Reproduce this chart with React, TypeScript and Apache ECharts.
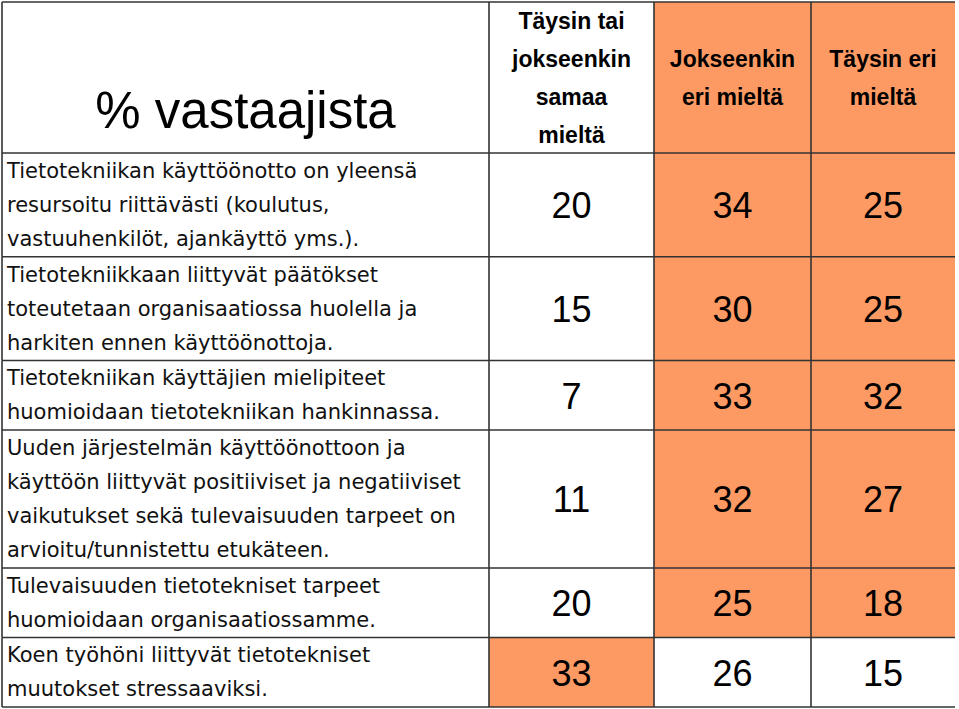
import React, { useEffect, useRef } from "react";
import * as echarts from "echarts";

const cornerTitle = "% vastaajista";
const columnHeaders = [
  "Täysin tai\njokseenkin\nsamaa\nmieltä",
  "Jokseenkin\neri mieltä",
  "Täysin eri\nmieltä",
];
const statements = [
  "Tietotekniikan käyttöönotto on yleensä\nresursoitu riittävästi (koulutus,\nvastuuhenkilöt, ajankäyttö yms.).",
  "Tietotekniikkaan liittyvät päätökset\ntoteutetaan organisaatiossa huolella ja\nharkiten ennen käyttöönottoja.",
  "Tietotekniikan käyttäjien mielipiteet\nhuomioidaan tietotekniikan hankinnassa.",
  "Uuden järjestelmän käyttöönottoon ja\nkäyttöön liittyvät positiiviset ja negatiiviset\nvaikutukset sekä tulevaisuuden tarpeet on\narvioitu/tunnistettu etukäteen.",
  "Tulevaisuuden tietotekniset tarpeet\nhuomioidaan organisaatiossamme.",
  "Koen työhöni liittyvät tietotekniset\nmuutokset stressaaviksi.",
];
const agreeValues = [20, 15, 7, 11, 20, 33];
const partlyDisagreeValues = [34, 30, 33, 32, 25, 26];
const fullyDisagreeValues = [25, 25, 32, 27, 18, 15];
// which value columns are highlighted (orange) per row; header row first
const headerHighlight = [false, true, true];
const rowHighlight = [
  [false, true, true],
  [false, true, true],
  [false, true, true],
  [false, true, true],
  [false, true, true],
  [true, false, false],
];

// ---- layout (not data) ----
const W = 959;
const H = 709;
const COL_EDGES = [2, 489, 654, 811, 955];
const TABLE_TOP = 2;
const HEADER_BOTTOM = 153;
const TABLE_BOTTOM = 707;
const ORANGE = "#FD9A63";
const LINE_COLOR = "#333333";
const FONT = "'Liberation Sans', Arial, Helvetica, sans-serif";
const LABEL_FONT = "'DejaVu Sans', 'Liberation Sans', sans-serif";

function rowEdges(): number[] {
  const weights = statements.map((s) => s.split("\n").length * 34 + 1);
  const total = weights.reduce((a, b) => a + b, 0);
  const span = TABLE_BOTTOM - HEADER_BOTTOM;
  const edges = [TABLE_TOP, HEADER_BOTTOM];
  let acc = HEADER_BOTTOM;
  weights.forEach((w) => {
    acc += (w / total) * span;
    edges.push(acc);
  });
  return edges;
}

export default function App() {
  const ref = useRef<HTMLDivElement>(null);
  useEffect(() => {
    document.body.style.margin = "0";
    if (!ref.current) return;
    const chart = echarts.init(ref.current, null, { renderer: "svg" });
    const edges = rowEdges();
    const valueCols = [agreeValues, partlyDisagreeValues, fullyDisagreeValues];
    const nRows = statements.length + 1; // header + rows

    const data: number[][] = [];
    for (let r = 0; r < nRows; r++) {
      for (let c = 0; c < 4; c++) data.push([c, r]);
    }

    const renderItem = (params: any, api: any) => {
      const c = api.value(0);
      const r = api.value(1);
      const [x0, y0] = api.coord([COL_EDGES[c], edges[r]]);
      const [x1, y1] = api.coord([COL_EDGES[c + 1], edges[r + 1]]);
      const children: any[] = [];
      let highlighted = false;
      if (c > 0) {
        highlighted = r === 0 ? headerHighlight[c - 1] : rowHighlight[r - 1][c - 1];
      }
      children.push({
        type: "rect",
        shape: { x: x0, y: y0, width: x1 - x0, height: y1 - y0 },
        style: { fill: highlighted ? ORANGE : "#ffffff" },
      });
      const lineStyle = { stroke: LINE_COLOR, lineWidth: 1.6 };
      children.push({
        type: "line",
        shape: { x1: x0, y1: y0, x2: x1, y2: y0 },
        style: lineStyle,
      });
      children.push({
        type: "line",
        shape: { x1: x0, y1: y0, x2: x0, y2: y1 },
        style: lineStyle,
      });
      if (r === nRows - 1) {
        children.push({
          type: "line",
          shape: { x1: x0, y1: y1, x2: x1, y2: y1 },
          style: lineStyle,
        });
      }
      const cx = (x0 + x1) / 2;
      const cy = (y0 + y1) / 2;
      if (r === 0 && c === 0) {
        children.push({
          type: "text",
          style: {
            text: cornerTitle,
            x: cx,
            y: y0 + 108,
            fill: "#000",
            fontSize: 51,
            fontFamily: FONT,
            align: "center",
            verticalAlign: "middle",
          },
        });
      } else if (r === 0) {
        children.push({
          type: "text",
          style: {
            text: columnHeaders[c - 1],
            x: cx,
            y: cy,
            fill: "#000",
            fontSize: 23,
            fontWeight: "bold",
            fontFamily: FONT,
            lineHeight: 38,
            align: "center",
            verticalAlign: "middle",
          },
        });
      } else if (c === 0) {
        children.push({
          type: "text",
          style: {
            text: statements[r - 1],
            x: x0 + 5,
            y: cy,
            fill: "#111",
            fontSize: 21,
            fontFamily: LABEL_FONT,
            lineHeight: 34,
            align: "left",
            verticalAlign: "middle",
          },
        });
      } else {
        children.push({
          type: "text",
          style: {
            text: String(valueCols[c - 1][r - 1]),
            x: cx,
            y: cy + 1,
            fill: "#000",
            fontSize: 36,
            fontFamily: FONT,
            align: "center",
            verticalAlign: "middle",
          },
        });
      }
      return { type: "group", children };
    };

    chart.setOption({
      animation: false,
      grid: { left: 0, right: 0, top: 0, bottom: 0 },
      xAxis: { type: "value", min: 0, max: W, show: false },
      yAxis: { type: "value", min: 0, max: H, inverse: true, show: false },
      series: [
        {
          type: "custom",
          renderItem,
          data,
          clip: false,
          silent: true,
          encode: { x: 0, y: 1 },
        },
      ],
    });
    return () => chart.dispose();
  }, []);
  return <div ref={ref} style={{ width: W, height: H }} />;
}
